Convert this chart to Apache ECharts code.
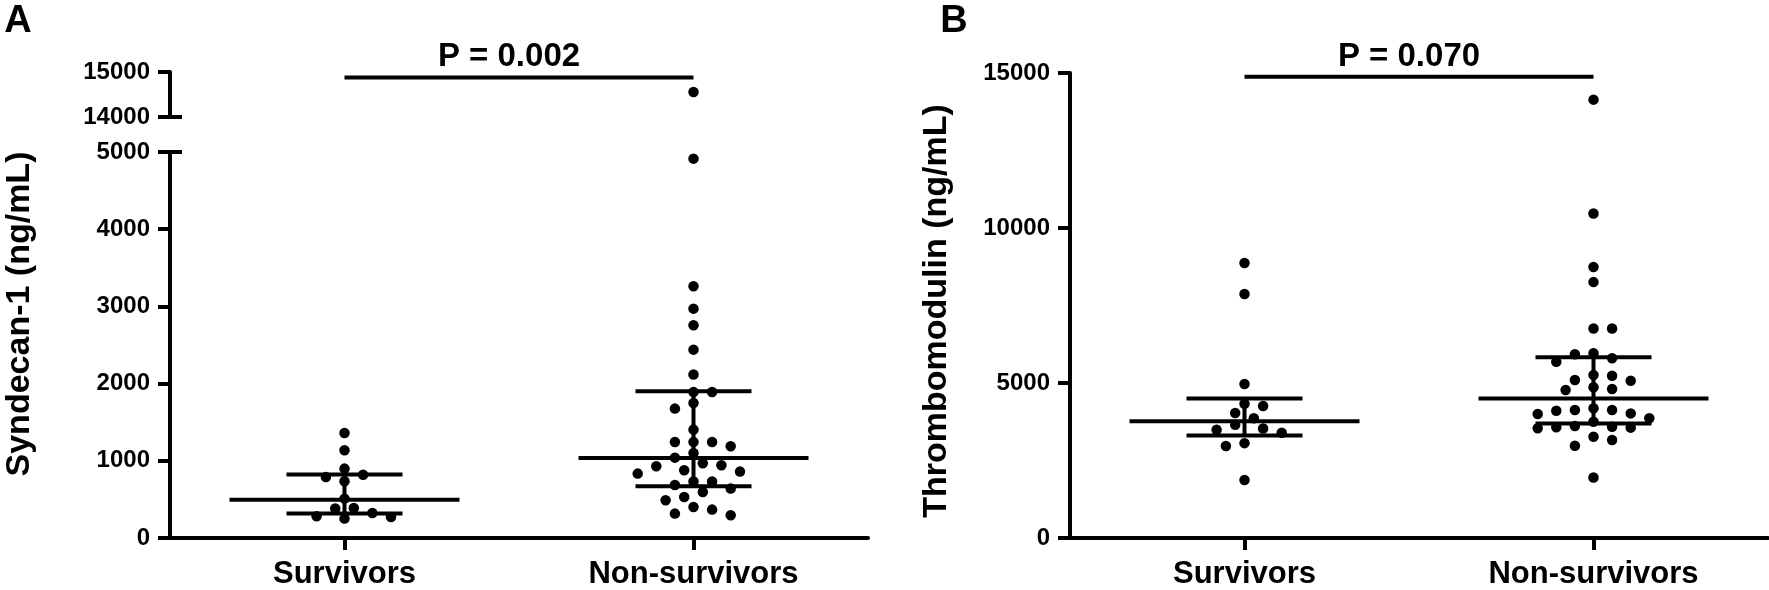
<!DOCTYPE html>
<html>
<head>
<meta charset="utf-8">
<script src="https://cdn.jsdelivr.net/npm/echarts@6/dist/echarts.min.js"></script>
<style>
html, body { margin: 0; padding: 0; background: #fff; }
#chart { width: 1769px; height: 590px; }
</style>
</head>
<body>
<div id="chart"></div>
<script>
// ---------------- data ----------------
const categories = ['Survivors', 'Non-survivors'];

// Panel A : Syndecan-1 (ng/mL)
const syndecanSurvivors = [1360, 1136, 899, 820, 790, 734, 510, 389, 381, 324, 281, 272, 251];
const syndecanNonSurvivors = [14556, 4914, 3260, 2971, 2755, 2440, 2117, 1891, 1891, 1749, 1676, 1404,
  1244, 1244, 1244, 1188, 1101, 1041, 968, 942, 929, 877, 860, 834, 731, 731, 687, 640, 596, 531,
  488, 402, 368, 316, 294];
const syndecanMedian = [497, 1036];
const syndecanQ1 = [316, 670];
const syndecanQ3 = [821, 1900];

// Panel B : Thrombomodulin (ng/mL)
const thrombSurvivors = [8870, 7870, 4965, 4330, 4260, 4030, 3865, 3650, 3530, 3490, 3395, 3060, 2970, 1870];
const thrombNonSurvivors = [14140, 10470, 8740, 8255, 6760, 6760, 5958, 5926, 5797, 5687, 5258, 5235,
  5097, 5074, 4861, 4806, 4774, 4184, 4129, 4129, 4106, 4020, 4000, 3861, 3752, 3613, 3590, 3571,
  3560, 3539, 3268, 3161, 2977, 1950];
const thrombMedian = [3770, 4500];
const thrombQ1 = [3310, 3690];
const thrombQ3 = [4500, 5830];

// significance brackets
const pLabels = ['P = 0.002', 'P = 0.070'];
const pBarLevel = [14880, 14880];

// axis ranges / tick steps
const syndecanUpperRange = [14000, 15000];
const syndecanLowerRange = [0, 5000];
const syndecanStep = 1000;
const thrombRange = [0, 15000];
const thrombStep = 5000;
const breakThreshold = 5000;

// ---------------- styling ----------------
const FONT = "'Liberation Sans', Arial, Helvetica, sans-serif";
const BLACK = '#000';
const LW = 4;
const DOT = 10.5;
const MED_HALF = 115;
const IQR_HALF = 58;

const chart = echarts.init(document.getElementById('chart'), null, { renderer: 'canvas' });

const tickLabel = { color: BLACK, fontSize: 24, fontWeight: 'bold', fontFamily: FONT, margin: 20,
  formatter: v => String(v) };
const catLabel = { color: BLACK, fontSize: 31, fontWeight: 'bold', fontFamily: FONT, margin: 21 };
const lineStyle = { color: BLACK, width: LW };

function mainY(grid, range, step) {
  return {
    gridIndex: grid, type: 'value', min: range[0], max: range[1], interval: step, position: 'left',
    axisLine: { show: true, onZero: false, lineStyle: lineStyle },
    axisTick: { show: true, length: 12, lineStyle: lineStyle },
    axisLabel: tickLabel,
    splitLine: { show: false }
  };
}
function breakY(grid, range, at) {
  return {
    gridIndex: grid, type: 'value', min: range[0], max: range[1], position: 'left',
    axisLine: { show: false, onZero: false },
    axisTick: { show: true, inside: true, length: 12, customValues: [at], lineStyle: lineStyle },
    axisLabel: { show: false },
    splitLine: { show: false }
  };
}
function catX(grid) {
  return {
    gridIndex: grid, type: 'category', data: categories, boundaryGap: true, position: 'bottom',
    axisLine: { show: true, onZero: false, lineStyle: lineStyle },
    axisTick: { show: true, alignWithLabel: true, length: 12, lineStyle: lineStyle },
    axisLabel: catLabel,
    splitLine: { show: false }
  };
}
function hiddenX(grid) {
  return { gridIndex: grid, type: 'value', min: -0.5, max: 1.5, show: false, position: 'bottom',
    axisLine: { onZero: false }, splitLine: { show: false } };
}

function summaryRender(params, api) {
  const x = api.value(0), q1 = api.value(1), med = api.value(2), q3 = api.value(3);
  const pm = api.coord([x, med]), p1 = api.coord([x, q1]), p3 = api.coord([x, q3]);
  const st = { stroke: BLACK, lineWidth: LW };
  return {
    type: 'group',
    children: [
      { type: 'line', shape: { x1: pm[0] - MED_HALF, y1: pm[1], x2: pm[0] + MED_HALF, y2: pm[1] }, style: st },
      { type: 'line', shape: { x1: p1[0] - IQR_HALF, y1: p1[1], x2: p1[0] + IQR_HALF, y2: p1[1] }, style: st },
      { type: 'line', shape: { x1: p3[0] - IQR_HALF, y1: p3[1], x2: p3[0] + IQR_HALF, y2: p3[1] }, style: st },
      { type: 'line', shape: { x1: p1[0], y1: p1[1], x2: p3[0], y2: p3[1] }, style: st }
    ]
  };
}
function makePRender(label) {
  return function (params, api) {
    const a = api.coord([api.value(0), api.value(2)]);
    const b = api.coord([api.value(1), api.value(2)]);
    return {
      type: 'group',
      children: [
        { type: 'line', shape: { x1: a[0], y1: a[1], x2: b[0], y2: b[1] }, style: { stroke: BLACK, lineWidth: LW } },
        { type: 'text', style: {
            text: label, x: (a[0] + b[0]) / 2 - 10, y: a[1] - 20,
            align: 'center', verticalAlign: 'middle', textAlign: 'center', textVerticalAlign: 'middle',
            font: 'bold 33px ' + FONT, fill: BLACK } }
      ]
    };
  };
}
function summaryData(q1, med, q3) {
  return categories.map((c, i) => [i, q1[i], med[i], q3[i]]);
}

const dotStyle = { color: BLACK, opacity: 1 };

const option = {
  animation: false,
  backgroundColor: '#fff',
  grid: [
    { left: 170, top: 72, width: 698, height: 45 },
    { left: 170, top: 152, width: 698, height: 386 },
    { left: 1070, top: 73, width: 698, height: 465 }
  ],
  xAxis: [hiddenX(0), catX(1), hiddenX(1), catX(2), hiddenX(2)],
  yAxis: [
    mainY(0, syndecanUpperRange, syndecanStep),
    breakY(0, syndecanUpperRange, syndecanUpperRange[0]),
    mainY(1, syndecanLowerRange, syndecanStep),
    breakY(1, syndecanLowerRange, syndecanLowerRange[1]),
    mainY(2, thrombRange, thrombStep)
  ],
  graphic: [
    { type: 'text', x: 18, y: 22, style: { text: 'A', font: 'bold 38px ' + FONT, fill: BLACK,
      align: 'center', verticalAlign: 'middle', textAlign: 'center', textVerticalAlign: 'middle' } },
    { type: 'text', x: 954, y: 22, style: { text: 'B', font: 'bold 38px ' + FONT, fill: BLACK,
      align: 'center', verticalAlign: 'middle', textAlign: 'center', textVerticalAlign: 'middle' } },
    { type: 'text', x: 20, y: 314, rotation: Math.PI / 2, style: { text: 'Syndecan-1 (ng/mL)',
      font: 'bold 34px ' + FONT, fill: BLACK, align: 'center', verticalAlign: 'middle',
      textAlign: 'center', textVerticalAlign: 'middle' } },
    { type: 'text', x: 937, y: 311, rotation: Math.PI / 2, style: { text: 'Thrombomodulin (ng/mL)',
      font: 'bold 34px ' + FONT, fill: BLACK, align: 'center', verticalAlign: 'middle',
      textAlign: 'center', textVerticalAlign: 'middle' } }
  ],
  series: [
    { id: 'aUp', type: 'scatter', xAxisIndex: 0, yAxisIndex: 0, symbol: 'circle', symbolSize: DOT,
      itemStyle: dotStyle, emphasis: { disabled: true }, data: [] },
    { id: 'aLo', type: 'scatter', xAxisIndex: 2, yAxisIndex: 2, symbol: 'circle', symbolSize: DOT,
      itemStyle: dotStyle, emphasis: { disabled: true }, data: [] },
    { id: 'b', type: 'scatter', xAxisIndex: 4, yAxisIndex: 4, symbol: 'circle', symbolSize: DOT,
      itemStyle: dotStyle, emphasis: { disabled: true }, data: [] },
    { type: 'custom', xAxisIndex: 2, yAxisIndex: 2, clip: false, renderItem: summaryRender,
      encode: { x: 0, y: [1, 2, 3] }, data: summaryData(syndecanQ1, syndecanMedian, syndecanQ3) },
    { type: 'custom', xAxisIndex: 4, yAxisIndex: 4, clip: false, renderItem: summaryRender,
      encode: { x: 0, y: [1, 2, 3] }, data: summaryData(thrombQ1, thrombMedian, thrombQ3) },
    { type: 'custom', xAxisIndex: 0, yAxisIndex: 0, clip: false, renderItem: makePRender(pLabels[0]),
      encode: { x: [0, 1], y: 2 }, data: [[0, 1, pBarLevel[0]]] },
    { type: 'custom', xAxisIndex: 4, yAxisIndex: 4, clip: false, renderItem: makePRender(pLabels[1]),
      encode: { x: [0, 1], y: 2 }, data: [[0, 1, pBarLevel[1]]] }
  ]
};
chart.setOption(option);

// beeswarm layout computed through the axes' own scales
function swarm(values, xCenter, xAxisIndex, yAxisIndex) {
  const pxPerX = chart.convertToPixel({ xAxisIndex: xAxisIndex }, 1) - chart.convertToPixel({ xAxisIndex: xAxisIndex }, 0);
  const half = 9.3, sx = 18.6, sy = 10.5;
  const items = values.map(v => ({ v: v, py: chart.convertToPixel({ yAxisIndex: yAxisIndex }, v) }))
    .sort((a, b) => a.py - b.py);
  const placed = [];
  items.forEach(it => {
    const left = placed.filter(p => p.dx < 0).length, right = placed.filter(p => p.dx > 0).length;
    const order = [0];
    for (let k = 1; k < 20; k++) {
      if (right <= left) order.push(k, -k); else order.push(-k, k);
    }
    for (const k of order) {
      const dx = k * half;
      const hit = placed.some(p => {
        const ddx = (p.dx - dx) / sx, ddy = (p.py - it.py) / sy;
        return ddx * ddx + ddy * ddy < 0.999;
      });
      if (!hit) { placed.push({ dx: dx, py: it.py, v: it.v }); break; }
    }
  });
  return placed.map(p => [xCenter + p.dx / pxPerX, p.v]);
}

const aUp = swarm(syndecanNonSurvivors.filter(v => v > breakThreshold), 1, 0, 0);
const aLo = swarm(syndecanSurvivors, 0, 2, 2).concat(
  swarm(syndecanNonSurvivors.filter(v => v <= breakThreshold), 1, 2, 2));
const bAll = swarm(thrombSurvivors, 0, 4, 4).concat(swarm(thrombNonSurvivors, 1, 4, 4));

chart.setOption({ series: [
  { id: 'aUp', data: aUp },
  { id: 'aLo', data: aLo },
  { id: 'b', data: bAll }
] });
</script>
</body>
</html>
